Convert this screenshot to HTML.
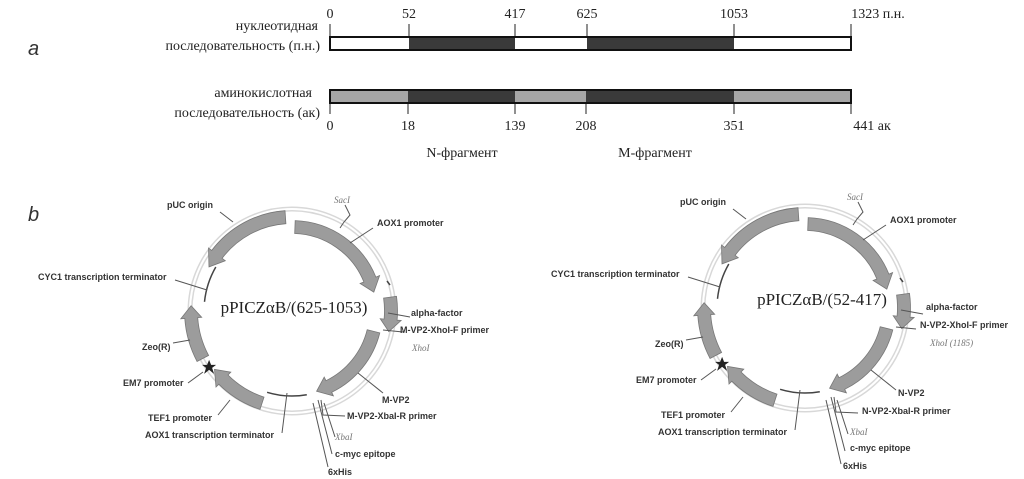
<!DOCTYPE html>
<html><head><meta charset="utf-8"><style>
html,body{margin:0;padding:0;background:#fff;}
svg{display:block}
.s{font-family:"Liberation Serif",serif;font-size:14px;fill:#222}
.l{font-family:"Liberation Sans",sans-serif;font-size:9px;font-weight:bold;fill:#333}
.i{font-family:"Liberation Serif",serif;font-size:9px;font-style:italic;fill:#777}
</style></head><body>
<svg id="s" width="1024" height="479" viewBox="0 0 1024 479" xmlns="http://www.w3.org/2000/svg">
<text x="28" y="55" font-family="Liberation Sans,sans-serif" font-style="italic" font-size="20" fill="#333">a</text>
<text x="28" y="221" font-family="Liberation Sans,sans-serif" font-style="italic" font-size="20" fill="#333">b</text>
<g class="s" text-anchor="middle">
<text x="330" y="18">0</text><text x="409" y="18">52</text><text x="515" y="18">417</text>
<text x="587" y="18">625</text><text x="734" y="18">1053</text><text x="878" y="18">1323 п.н.</text>
<text x="330" y="130">0</text><text x="408" y="130">18</text><text x="515" y="130">139</text>
<text x="586" y="130">208</text><text x="734" y="130">351</text><text x="872" y="130">441 ак</text>
<text x="462" y="157">N-фрагмент</text><text x="655" y="157">M-фрагмент</text>
</g>
<g class="s" text-anchor="end">
<text x="318" y="30">нуклеотидная</text>
<text x="320" y="50">последовательность (п.н.)</text>
<text x="312" y="97">аминокислотная</text>
<text x="320" y="117">последовательность (ак)</text>
</g>
<g stroke="#222" stroke-width="1">
<line x1="409" y1="24" x2="409" y2="37"/><line x1="515" y1="24" x2="515" y2="37"/>
<line x1="587" y1="24" x2="587" y2="37"/><line x1="734" y1="24" x2="734" y2="37"/>
<line x1="330" y1="24" x2="330" y2="37"/><line x1="851" y1="24" x2="851" y2="37"/>
<line x1="330" y1="103" x2="330" y2="114"/><line x1="408" y1="103" x2="408" y2="114"/>
<line x1="515" y1="103" x2="515" y2="114"/><line x1="586" y1="103" x2="586" y2="114"/>
<line x1="734" y1="103" x2="734" y2="114"/><line x1="851" y1="103" x2="851" y2="114"/>
</g>
<rect x="330" y="37" width="521" height="13" fill="#fff" stroke="#111" stroke-width="2"/>
<rect x="409" y="38" width="106" height="11" fill="#3a3a3a"/>
<rect x="587" y="38" width="147" height="11" fill="#3a3a3a"/>
<rect x="330" y="90" width="521" height="13" fill="#a6a6a6" stroke="#111" stroke-width="2"/>
<rect x="408" y="91" width="107" height="11" fill="#3a3a3a"/>
<rect x="586" y="91" width="148" height="11" fill="#3a3a3a"/>

<g id="L"></g>
<g id="R" transform="translate(513,-3)"></g>

<g class="l">
<text x="167" y="208">pUC origin</text>
<text x="377" y="226">AOX1 promoter</text>
<text x="38" y="280">CYC1 transcription terminator</text>
<text x="411" y="316">alpha-factor</text>
<text x="400" y="333">M-VP2-XhoI-F primer</text>
<text x="142" y="350">Zeo(R)</text>
<text x="123" y="386">EM7 promoter</text>
<text x="382" y="403">M-VP2</text>
<text x="347" y="419">M-VP2-XbaI-R primer</text>
<text x="148" y="421">TEF1 promoter</text>
<text x="145" y="438">AOX1 transcription terminator</text>
<text x="335" y="457">c-myc epitope</text>
<text x="328" y="475">6xHis</text>
</g>
<text class="i" x="412" y="351">XhoI</text>
<text class="i" x="335" y="440">XbaI</text>
<text class="i" x="334" y="203" font-size="7">SacI</text>
<text x="294" y="313" text-anchor="middle" font-family="Liberation Serif,serif" font-size="17" fill="#222">pPICZαB/(625-1053)</text>

<g class="l">
<text x="680" y="205">pUC origin</text>
<text x="890" y="223">AOX1 promoter</text>
<text x="551" y="277">CYC1 transcription terminator</text>
<text x="926" y="310">alpha-factor</text>
<text x="920" y="328">N-VP2-XhoI-F primer</text>
<text x="655" y="347">Zeo(R)</text>
<text x="636" y="383">EM7 promoter</text>
<text x="898" y="396">N-VP2</text>
<text x="862" y="414">N-VP2-XbaI-R primer</text>
<text x="661" y="418">TEF1 promoter</text>
<text x="658" y="435">AOX1 transcription terminator</text>
<text x="850" y="451">c-myc epitope</text>
<text x="843" y="469">6xHis</text>
</g>
<text class="i" x="930" y="346">XhoI (1185)</text>
<text class="i" x="850" y="435">XbaI</text>
<text class="i" x="847" y="200" font-size="7">SacI</text>
<text x="822" y="305" text-anchor="middle" font-family="Liberation Serif,serif" font-size="17" fill="#222">pPICZαB/(52-417)</text>
</svg>
<script>
var NS="http://www.w3.org/2000/svg";
var cx=292,cy=311;
function P(a,r){a=a*Math.PI/180;return [cx+r*Math.sin(a),cy-r*Math.cos(a)];}
function f(p){return p[0].toFixed(1)+","+p[1].toFixed(1);}
function el(g,t,at){var e=document.createElementNS(NS,t);for(var k in at)e.setAttribute(k,at[k]);g.appendChild(e);return e;}
function arrow(g,a0,a1,r,w,hw,hd){
 var s=a1>a0?1:-1, am=a1-s*hd, o=r+w/2,i=r-w/2, lg=Math.abs(am-a0)>180?1:0, sw1=s>0?1:0, sw2=s>0?0:1;
 var d="M"+f(P(a0,o))+" A"+o+","+o+" 0 "+lg+" "+sw1+" "+f(P(am,o))+" L"+f(P(am,r+hw/2))+" L"+f(P(a1,r))+" L"+f(P(am,r-hw/2))+" L"+f(P(am,i))+" A"+i+","+i+" 0 "+lg+" "+sw2+" "+f(P(a0,i))+"Z";
 el(g,"path",{d:d,fill:"#9c9c9c",stroke:"#777","stroke-width":0.8});
}
function arc(g,a0,a1,r,st,sw){
 el(g,"path",{d:"M"+f(P(a0,r))+" A"+r+","+r+" 0 0 1 "+f(P(a1,r)),fill:"none",stroke:st,"stroke-width":sw});
}
function ln(g,pts){el(g,"polyline",{points:pts,fill:"none",stroke:"#555","stroke-width":1});}
function build(g){
 el(g,"circle",{cx:cx,cy:cy,r:102,fill:"none",stroke:"#d8d8d8","stroke-width":5});
 el(g,"circle",{cx:cx,cy:cy,r:102,fill:"none",stroke:"#fff","stroke-width":2});
 arrow(g,356,298,94,13,21,9);
 arrow(g,2,77,84,13,21,9);
 arrow(g,82,102,99,13,21,7);
 arrow(g,104,163,84,13,21,9);
 arrow(g,198,233,97,13,21,8);
 arrow(g,242,273,101,13,21,7);
 arc(g,170,197,85,"#444",1.5);
 arc(g,276,300,88,"#444",1.5);
 var st=P(236,100);
 el(g,"polygon",{points:[[0,-7],[2,-2],[7,-2],[3,1],[5,7],[0,3],[-5,7],[-3,1],[-7,-2],[-2,-2]].map(function(p){return (st[0]+p[0])+","+(st[1]+p[1]);}).join(" "),fill:"#222"});
 el(g,"line",{x1:387,y1:281,x2:390,y2:285,stroke:"#444","stroke-width":1.5});
 ln(g,"220,212 233,222");
 ln(g,"373,228 350,243");
 ln(g,"340,228 344,222 350,215 345,205");
 ln(g,"175,280 207,290");
 ln(g,"410,317 388,313");
 ln(g,"383,330 403,332");
 ln(g,"173,343 190,340");
 ln(g,"188,383 203,372");
 ln(g,"358,373 383,393");
 ln(g,"345,416 323,415 321,400");
 ln(g,"218,415 230,400");
 ln(g,"282,433 287,393");
 ln(g,"332,454 318,400");
 ln(g,"328,467 313,403");
 ln(g,"335,437 324,403");
}
build(document.getElementById("L"));
build(document.getElementById("R"));
</script>
</body></html>
